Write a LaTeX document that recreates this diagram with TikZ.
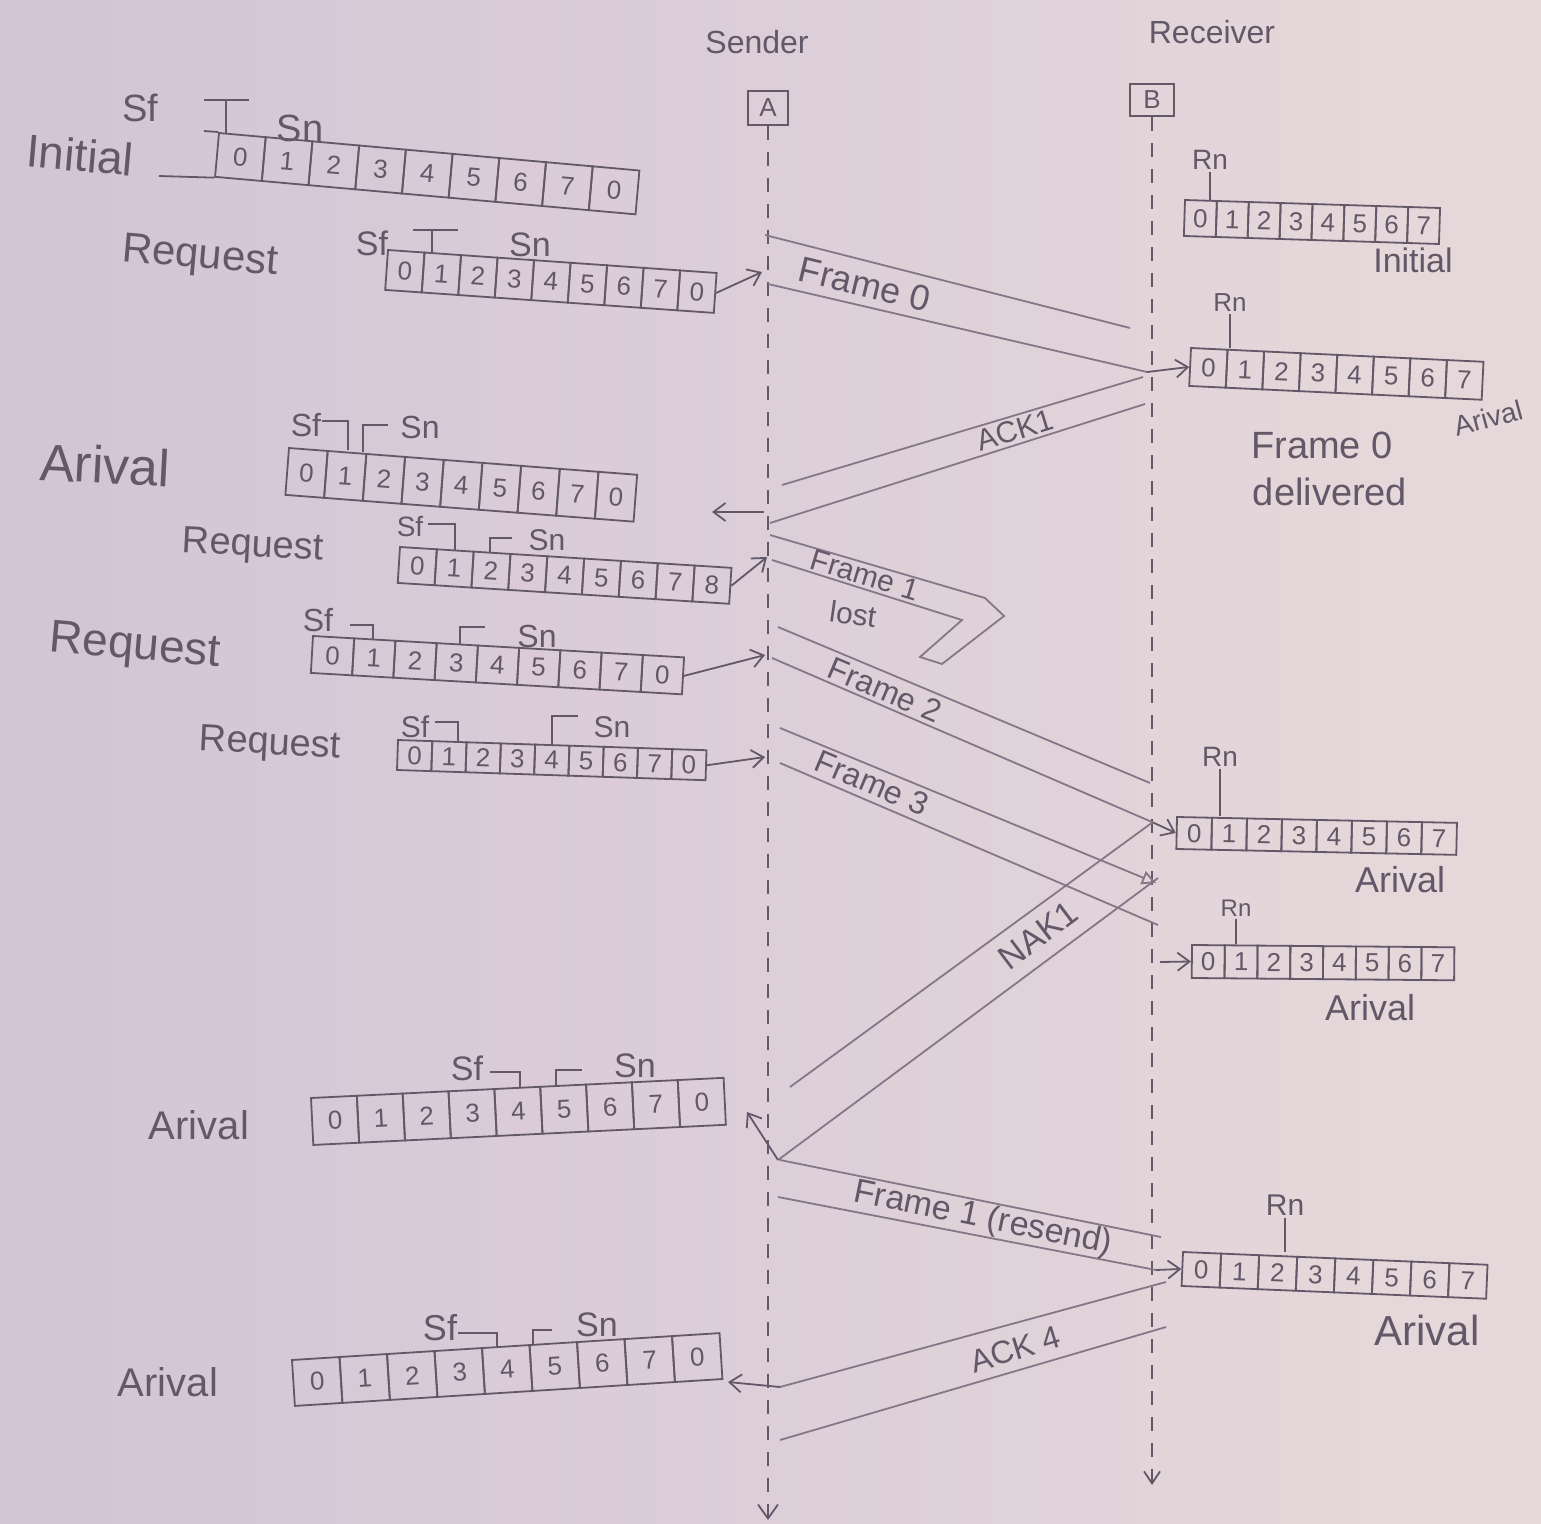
\documentclass[tikz,border=0pt]{standalone}
\usepackage{fontspec}
\setmainfont{Liberation Sans}
\usetikzlibrary{arrows.meta,calc}
\definecolor{paperL}{RGB}{211,196,214}
\definecolor{paperR}{RGB}{231,217,218}
\definecolor{ink}{RGB}{98,88,104}
\definecolor{inkL}{RGB}{132,119,136}
\newcommand{\fsz}[1]{\fontsize{#1}{#1}\selectfont}
\tikzset{
  every node/.style={text=ink},
  cellbox/.style={draw=ink, line width=0.9pt, inner sep=0pt},
  digit/.style={inner sep=0pt, font=\fsz{13}},
  lbl/.style={font=\fsz{#1}, inner sep=1pt},
  boxst/.style={draw=ink, line width=0.9pt, inner sep=0pt, font=\fsz{13}},
  band/.style={draw=inkL, line width=0.9pt},
  mk/.style={draw=ink, line width=0.9pt},
  life/.style={draw=ink, line width=0.9pt, dash pattern=on 7pt off 6pt},
  arr/.style={draw=ink, line width=0.9pt, -{Straight Barb[length=6pt,width=9pt]}},
}
% #1 name, #2 x, #3 y (top-left), #4 cell width, #5 height, #6 angle, #7 labels
\newcommand{\cellrow}[7]{%
  \begin{scope}[shift={(#2,#3)}, rotate=#6, transform shape]
    \foreach \lab [count=\i from 0] in {#7}{
      \node[cellbox, minimum width={#4*0.5pt}, minimum height={#5*0.5pt}] (#1-\i) at ({(\i+0.5)*#4},{#5/2}) {};
      \node[digit] (#1-\i t) at (#1-\i.center) {\lab};
    }
  \end{scope}}
\begin{document}
\begin{tikzpicture}[x=0.5pt,y=-0.5pt]
\fill[left color=paperL, right color=paperR] (0,0) rectangle (1541,1524);
\useasboundingbox (0,0) rectangle (1541,1524);

% ---------- headers and lifelines ----------
\node[lbl=16] (sender) at (757,42) {Sender};
\node[lbl=16] (receiver) at (1212,32) {Receiver};
\node[boxst, minimum width=20pt, minimum height=17pt] (A) at (768,108) {A};
\node[boxst, minimum width=22pt, minimum height=16pt] (B) at (1152,100) {B};
\coordinate (Aend) at (768,1520);
\coordinate (Bend) at (1152,1485);
\draw[life, -{Straight Barb[length=7pt,width=10pt]}] (A.south) -- (Aend);
\draw[life, -{Straight Barb[length=6pt,width=8pt]}] (B.south) -- (Bend);

% ---------- sender windows ----------
\cellrow{w1}{219}{133}{46.9}{44}{-5.1}{0,1,2,3,4,5,6,7,0}
\cellrow{w2}{388}{250}{36.6}{40}{-4}{0,1,2,3,4,5,6,7,0}
\cellrow{w3}{289}{448}{38.8}{47}{-4.4}{0,1,2,3,4,5,6,7,0}
\cellrow{w4}{400}{547}{36.9}{36}{-3.6}{0,1,2,3,4,5,6,7,8}
\cellrow{w5}{313}{636}{41.3}{37}{-3.3}{0,1,2,3,4,5,6,7,0}
\cellrow{w6}{398}{740}{34.3}{30}{-1.9}{0,1,2,3,4,5,6,7,0}
\cellrow{w7}{311}{1098}{45.9}{47}{2.8}{0,1,2,3,4,5,6,7,0}
\cellrow{w8}{292}{1360}{47.6}{46}{3.6}{0,1,2,3,4,5,6,7,0}

% ---------- receiver windows ----------
\cellrow{r1}{1185}{200}{31.9}{36}{-1.8}{0,1,2,3,4,5,6,7}
\cellrow{r2}{1191}{348}{36.6}{38}{-2.7}{0,1,2,3,4,5,6,7}
\cellrow{r3}{1177}{817}{35}{32}{-1.2}{0,1,2,3,4,5,6,7}
\cellrow{r4}{1192}{945}{32.8}{33}{-0.5}{0,1,2,3,4,5,6,7}
\cellrow{r5}{1183}{1252}{38.1}{34}{-2.4}{0,1,2,3,4,5,6,7}

% window line extensions (W1)
\coordinate (w1ext1) at (204,131);
\coordinate (w1ext2) at (159,176);
\draw[mk] (w1ext1) -- (w1-0.north west);
\draw[mk] (w1ext2) -- (w1-0.south west);

% ---------- sender window labels ----------
\node[lbl=23, rotate=-5] (lw1) at (80,155) {Initial};
\node[lbl=21, rotate=-5] (lw2) at (200,258) {Request};
\node[lbl=26, rotate=-3] (lw3) at (105,465) {Arival};
\node[lbl=19, rotate=-3] (lw4) at (253,547) {Request};
\node[lbl=23, rotate=-5] (lw5) at (135,648) {Request};
\node[lbl=19, rotate=-3] (lw6) at (270,745) {Request};
\node[lbl=20] (lw7) at (199,1125) {Arival};
\node[lbl=20] (lw8) at (168,1382) {Arival};

% ---------- Sf / Sn pointers ----------
\node[lbl=19] (sf1) at (140,108) {Sf};
\node[lbl=19] (sn1) at (300,128) {Sn};
\draw[mk] (204,100) -- (249,100) (226,100) -- (226,134);

\node[lbl=17] (sf2) at (372,243) {Sf};
\node[lbl=17] (sn2) at (530,245) {Sn};
\draw[mk] (413,230) -- (458,230) (432,230) -- (432,253);

\node[lbl=16] (sf3) at (306,425) {Sf};
\node[lbl=16] (sn3) at (420,427) {Sn};
\draw[mk] (322,421) -- (348,421) -- (348,450);
\draw[mk] (388,425) -- (363,425) -- (363,452);

\node[lbl=14] (sf4) at (410,527) {Sf};
\node[lbl=15] (sn4) at (547,540) {Sn};
\draw[mk] (428,524) -- (455,524) -- (455,550);
\draw[mk] (512,538) -- (490,538) -- (490,553);

\node[lbl=16] (sf5) at (318,620) {Sf};
\node[lbl=16] (sn5) at (537,636) {Sn};
\draw[mk] (350,625) -- (373,625) -- (373,640);
\draw[mk] (485,627) -- (460,627) -- (460,645);

\node[lbl=15] (sf6) at (415,727) {Sf};
\node[lbl=15] (sn6) at (612,727) {Sn};
\draw[mk] (435,722) -- (458,722) -- (458,742);
\draw[mk] (578,716) -- (552,716) -- (552,745);

\node[lbl=17] (sf7) at (467,1068) {Sf};
\node[lbl=17] (sn7) at (635,1066) {Sn};
\draw[mk] (490,1072) -- (520,1072) -- (520,1088);
\draw[mk] (582,1070) -- (556,1070) -- (556,1086);

\node[lbl=18] (sf8) at (440,1328) {Sf};
\node[lbl=17] (sn8) at (597,1325) {Sn};
\draw[mk] (458,1333) -- (497,1333) -- (497,1347);
\draw[mk] (552,1330) -- (533,1330) -- (533,1345);

% ---------- receiver labels and Rn pointers ----------
\node[lbl=14] (rn1) at (1210,160) {Rn};
\draw[mk] (rn1.south) -- (rn1.south |- r1-0.north);
\node[lbl=17] (lr1) at (1413,260) {Initial};

\node[lbl=13] (rn2) at (1230,303) {Rn};
\draw[mk] (rn2.south) -- (rn2.south |- r2-0.north);
\node[lbl=14, rotate=15] (lr2) at (1488,418) {Arival};
\node[lbl=19] (del1) at (1322,445) {Frame 0};
\node[lbl=19] (del2) at (1330,492) {delivered};

\node[lbl=14] (rn3) at (1220,757) {Rn};
\draw[mk] (rn3.south) -- (rn3.south |- r3-0.north);
\node[lbl=18] (lr3) at (1400,880) {Arival};

\node[lbl=12] (rn4) at (1236,908) {Rn};
\draw[mk] (rn4.south) -- (rn4.south |- r4-0.north);
\node[lbl=18] (lr4) at (1370,1008) {Arival};

\node[lbl=15] (rn5) at (1285,1205) {Rn};
\draw[mk] (rn5.south) -- (rn5.south |- r5-0.north);
\node[lbl=21] (lr5) at (1427,1330) {Arival};

% ---------- coordinates of message bands ----------
% Frame 0
\coordinate (f0u1) at (765,235);  \coordinate (f0u2) at (1130,328);
\coordinate (f0l1) at (768,284);  \coordinate (f0l2) at (1147,372);
% ACK1
\coordinate (a1u1) at (1143,377); \coordinate (a1u2) at (782,485);
\coordinate (a1l1) at (1145,404); \coordinate (a1l2) at (770,523);
% Frame 1 (lost)
\coordinate (f1u1) at (770,535);  \coordinate (f1u2) at (985,598);
\coordinate (f1l1) at (772,560);  \coordinate (f1l2) at (962,620);
\coordinate (f1t1) at (1004,616); \coordinate (f1t2) at (942,664);
\coordinate (f1t3) at (920,657);
% Frame 2
\coordinate (f2u1) at (778,627);  \coordinate (f2u2) at (1150,783);
\coordinate (f2l1) at (772,658);  \coordinate (f2l2) at (1152,822);
% Frame 3
\coordinate (f3u1) at (780,728);  \coordinate (f3u2) at (1156,883);
\coordinate (f3l1) at (780,763);  \coordinate (f3l2) at (1158,925);
\coordinate (f3a)  at (1160,962);
% NAK1
\coordinate (n1u1) at (1153,822); \coordinate (n1u2) at (790,1087);
\coordinate (n1l1) at (1158,878); \coordinate (n1l2) at (778,1160);
% Frame 1 (resend)
\coordinate (frU1) at (780,1160); \coordinate (frU2) at (1161,1237);
\coordinate (frL1) at (778,1197); \coordinate (frL2) at (1156,1270);
% ACK 4
\coordinate (a4u1) at (1166,1282); \coordinate (a4u2) at (780,1387);
\coordinate (a4l1) at (1166,1327); \coordinate (a4l2) at (780,1440);
% sender-side arrow ends
\coordinate (sa0) at (762,272);
\coordinate (sa1) at (764,512);   \coordinate (sa1h) at (712,512);
\coordinate (sa2) at (767,557);
\coordinate (sa3) at (765,655);
\coordinate (sa4) at (765,757);
\coordinate (sa5h) at (747,1112);
\coordinate (sa6h) at (728,1382);

% ---------- message bands ----------
\draw[band] (f0u1) -- (f0u2);
\draw[band] (f0l1) -- (f0l2);
\draw[arr] (f0l2) -- (r2-0.west);
\node[lbl=18, rotate=-13.5] (tf0) at (865,284) {Frame 0};

\draw[band] (a1u1) -- (a1u2);
\draw[band] (a1l1) -- (a1l2);
\node[lbl=15, rotate=17] (ta1) at (1015,430) {ACK1};

\draw[band] (f1u1) -- (f1u2) -- (f1t1) -- (f1t2) -- (f1t3) -- (f1l2) -- (f1l1);
\node[lbl=15, rotate=-17] (tf1) at (865,575) {Frame 1};
\node[lbl=15, rotate=-8] (tlost) at (853,614) {lost};

\draw[band] (f2u1) -- (f2u2);
\draw[band] (f2l1) -- (f2l2);
\draw[arr] (f2l2) -- (r3-0.west);
\node[lbl=16, rotate=-23] (tf2) at (885,690) {Frame 2};

\draw[band, -{Triangle[open,length=7pt,width=7pt]}] (f3u1) -- (f3u2);
\draw[band] (f3l1) -- (f3l2);
\draw[arr] (f3a) -- (r4-0.west);
\node[lbl=16, rotate=-23] (tf3) at (872,783) {Frame 3};

\draw[band] (n1u1) -- (n1u2);
\draw[band] (n1l1) -- (n1l2);
\node[lbl=17, rotate=37] (tn1) at (1038,935) {NAK1};

\draw[band] (frU1) -- (frU2);
\draw[band] (frL1) -- (frL2);
\draw[arr] (frL2) -- (r5-0.west);
\node[lbl=17, rotate=-11.5] (tfr) at (983,1219) {Frame 1 (resend)};

\draw[band] (a4u1) -- (a4u2);
\draw[band] (a4l1) -- (a4l2);
\node[lbl=16, rotate=17] (ta4) at (1015,1349) {ACK 4};

% ---------- sender-side arrows ----------
\draw[arr] (w2-8.east) -- (sa0);
\draw[arr] (sa1) -- (sa1h);
\draw[arr] (w4-8.east) -- (sa2);
\draw[arr] (w5-8.east) -- (sa3);
\draw[arr] (w6-8.east) -- (sa4);
\draw[arr] (n1l2) -- (sa5h);
\draw[arr] (a4u2) -- (sa6h);
\end{tikzpicture}
\end{document}
